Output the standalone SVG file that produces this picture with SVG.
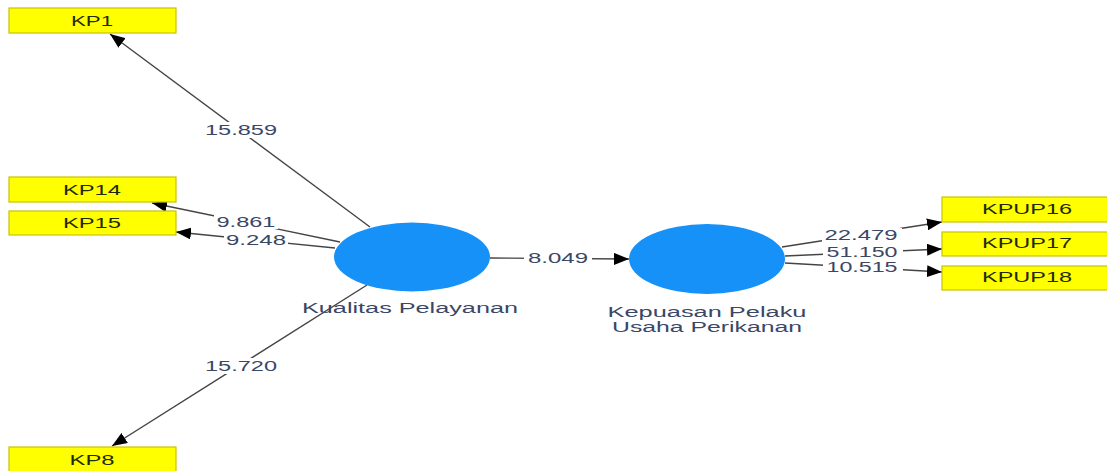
<svg xmlns="http://www.w3.org/2000/svg" width="1107" height="471" viewBox="0 0 1107 471">
<defs>
<marker id="ah" markerUnits="userSpaceOnUse" markerWidth="16" markerHeight="12" refX="15" refY="6" orient="auto">
<path d="M0,0 L15,6 L0,12 Z" fill="#000"/>
</marker>
<style>
.box{fill:#ffff00;stroke:#c8c400;stroke-width:1.2}
.bt{font-family:"Liberation Sans",Arial,sans-serif;font-size:15px;fill:#1f2a00;text-anchor:middle}
.lv{fill:#1591f7}
.lt{font-family:"Liberation Sans",Arial,sans-serif;font-size:14px;fill:#3a4766;text-anchor:middle}
.c{stroke:#444;stroke-width:1.4;fill:none}
.bg{fill:#fff}
.n{font-family:"Liberation Sans",Arial,sans-serif;font-size:14.5px;fill:#3a4766;text-anchor:middle}
</style>
</defs>
<rect width="1107" height="471" fill="#fff"/>
<g id="connectors">
<line class="c" x1="370" y1="227" x2="110" y2="34" marker-end="url(#ah)"/>
<line class="c" x1="340" y1="242" x2="152" y2="203" marker-end="url(#ah)"/>
<line class="c" x1="335" y1="248" x2="176" y2="232" marker-end="url(#ah)"/>
<line class="c" x1="367" y1="285" x2="112" y2="446" marker-end="url(#ah)"/>
<line class="c" x1="490" y1="258" x2="629" y2="259" marker-end="url(#ah)"/>
<line class="c" x1="782" y1="247" x2="942" y2="222" marker-end="url(#ah)"/>
<line class="c" x1="785" y1="256" x2="942" y2="249" marker-end="url(#ah)"/>
<line class="c" x1="785" y1="263" x2="942" y2="272" marker-end="url(#ah)"/>
<rect class="bg" x="203" y="122" width="76" height="16"/>
<text class="n" x="241" y="135" textLength="72" lengthAdjust="spacingAndGlyphs">15.859</text>
<rect class="bg" x="214" y="214" width="64" height="15"/>
<text class="n" x="246" y="227" textLength="59" lengthAdjust="spacingAndGlyphs">9.861</text>
<rect class="bg" x="224" y="232" width="64" height="15"/>
<text class="n" x="256" y="245" textLength="60" lengthAdjust="spacingAndGlyphs">9.248</text>
<rect class="bg" x="203" y="358" width="76" height="16"/>
<text class="n" x="241" y="371" textLength="72" lengthAdjust="spacingAndGlyphs">15.720</text>
<rect class="bg" x="524" y="250" width="68" height="16"/>
<text class="n" x="558" y="263" textLength="60" lengthAdjust="spacingAndGlyphs">8.049</text>
<rect class="bg" x="822" y="228" width="80" height="14"/>
<text class="n" x="861" y="240" textLength="73" lengthAdjust="spacingAndGlyphs">22.479</text>
<rect class="bg" x="823" y="244" width="80" height="15"/>
<text class="n" x="862" y="257" textLength="71" lengthAdjust="spacingAndGlyphs">51.150</text>
<rect class="bg" x="823" y="260" width="80" height="14"/>
<text class="n" x="862" y="272" textLength="71" lengthAdjust="spacingAndGlyphs">10.515</text>
</g>
<g id="KP1"><rect class="box" x="9" y="8" width="167" height="25"/><text class="bt" x="92" y="26" textLength="42" lengthAdjust="spacingAndGlyphs">KP1</text></g>
<g id="KP14"><rect class="box" x="9" y="177" width="167" height="25"/><text class="bt" x="92" y="195" textLength="58" lengthAdjust="spacingAndGlyphs">KP14</text></g>
<g id="KP15"><rect class="box" x="9" y="211" width="167" height="24"/><text class="bt" x="92" y="228" textLength="58" lengthAdjust="spacingAndGlyphs">KP15</text></g>
<g id="KP8"><rect class="box" x="9" y="447" width="167" height="26"/><text class="bt" x="92" y="465" textLength="45" lengthAdjust="spacingAndGlyphs">KP8</text></g>
<g id="KPUP16"><rect class="box" x="942" y="197" width="168" height="25"/><text class="bt" x="1027" y="214" textLength="90" lengthAdjust="spacingAndGlyphs">KPUP16</text></g>
<g id="KPUP17"><rect class="box" x="942" y="232" width="168" height="24"/><text class="bt" x="1027" y="248" textLength="90" lengthAdjust="spacingAndGlyphs">KPUP17</text></g>
<g id="KPUP18"><rect class="box" x="942" y="266" width="168" height="24"/><text class="bt" x="1027" y="282" textLength="90" lengthAdjust="spacingAndGlyphs">KPUP18</text></g>
<g id="KualitasPelayanan"><ellipse class="lv" cx="412" cy="257" rx="78" ry="34.5"/><text class="lt" x="410" y="313" textLength="216" lengthAdjust="spacingAndGlyphs">Kualitas Pelayanan</text></g>
<g id="KepuasanPelaku"><ellipse class="lv" cx="707" cy="259" rx="78" ry="35"/><text class="lt" x="707" y="317" textLength="199" lengthAdjust="spacingAndGlyphs">Kepuasan Pelaku</text><text class="lt" x="707" y="332" textLength="190" lengthAdjust="spacingAndGlyphs">Usaha Perikanan</text></g>
</svg>
